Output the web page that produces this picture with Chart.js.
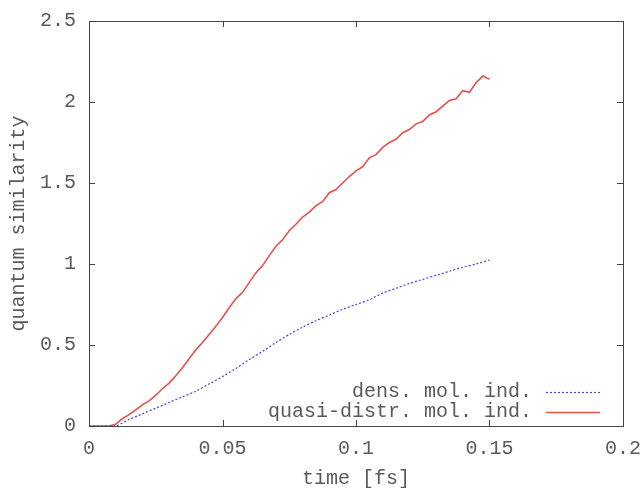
<!DOCTYPE html>
<html>
<head>
<meta charset="utf-8">
<script src="https://cdn.jsdelivr.net/npm/chart.js@4"></script>
<style>
  html, body { margin: 0; padding: 0; background: #fff; }
  #wrap { width: 641px; height: 488px; }
</style>
</head>
<body>
<div id="wrap"><canvas id="simChart" width="641" height="488"></canvas></div>
<script>
// time axis values [fs]
const timeQuasi = [0, 0.0025, 0.005, 0.0075, 0.01, 0.0125, 0.015, 0.0175, 0.02, 0.0225,
    0.025, 0.0275, 0.03, 0.0325, 0.035, 0.0375, 0.04, 0.0425, 0.045, 0.0475,
    0.05, 0.0525, 0.055, 0.0575, 0.06, 0.0625, 0.065, 0.0675, 0.07, 0.0725,
    0.075, 0.0775, 0.08, 0.0825, 0.085, 0.0875, 0.09, 0.0925, 0.095, 0.0975,
    0.1, 0.1025, 0.105, 0.1075, 0.11, 0.1125, 0.115, 0.1175, 0.12, 0.1225,
    0.125, 0.1275, 0.13, 0.1325, 0.135, 0.1375, 0.14, 0.1425, 0.145, 0.1475, 0.15];
const simQuasi = [0, 0, 0, 0, 0.01, 0.045, 0.07, 0.10, 0.13, 0.155,
    0.19, 0.23, 0.265, 0.31, 0.36, 0.415, 0.47, 0.515, 0.565, 0.615,
    0.67, 0.73, 0.785, 0.825, 0.885, 0.945, 0.99, 1.05, 1.11, 1.15,
    1.205, 1.245, 1.29, 1.32, 1.36, 1.385, 1.44, 1.46, 1.50, 1.54,
    1.575, 1.60, 1.655, 1.675, 1.72, 1.75, 1.77, 1.81, 1.83, 1.865,
    1.88, 1.92, 1.94, 1.975, 2.01, 2.02, 2.07, 2.06, 2.12, 2.16, 2.14];

const timeDens = [0, 0.005, 0.01, 0.015, 0.02, 0.025, 0.03, 0.035, 0.04, 0.045,
    0.05, 0.055, 0.06, 0.065, 0.07, 0.075, 0.08, 0.085, 0.09, 0.095,
    0.1, 0.105, 0.11, 0.115, 0.12, 0.125, 0.13, 0.135, 0.14, 0.145, 0.15];
const simDens = [0, 0, 0, 0.04, 0.075, 0.11, 0.145, 0.18, 0.215, 0.26,
    0.305, 0.355, 0.41, 0.46, 0.515, 0.565, 0.61, 0.65, 0.685, 0.72,
    0.75, 0.78, 0.82, 0.85, 0.88, 0.905, 0.93, 0.955, 0.98, 1.0, 1.025];

const xTicks = [0, 0.05, 0.1, 0.15, 0.2];
const yTicks = [0, 0.5, 1, 1.5, 2, 2.5];

const FONT = '"Liberation Mono", "Courier New", monospace';
const TEXT = '#5a5a5a';
const FRAME = '#444';

// gnuplot-like frame with inward mirrored ticks and a right-aligned key
const framePlugin = {
    id: 'frame',
    afterDraw(chart) {
        const { ctx, chartArea: a, scales } = chart;
        ctx.save();
        ctx.strokeStyle = FRAME;
        ctx.lineWidth = 1;
        ctx.strokeRect(a.left + 0.5, a.top + 0.5, a.right - a.left, a.bottom - a.top);
        ctx.beginPath();
        xTicks.forEach(v => {
            const px = Math.round(scales.x.getPixelForValue(v)) + 0.5;
            ctx.moveTo(px, a.bottom); ctx.lineTo(px, a.bottom - 6);
            ctx.moveTo(px, a.top); ctx.lineTo(px, a.top + 6);
        });
        yTicks.forEach(v => {
            const py = Math.round(scales.y.getPixelForValue(v)) + 0.5;
            ctx.moveTo(a.left, py); ctx.lineTo(a.left + 6, py);
            ctx.moveTo(a.right, py); ctx.lineTo(a.right - 6, py);
        });
        ctx.stroke();

        // key
        ctx.font = '20px ' + FONT;
        ctx.textAlign = 'right';
        ctx.textBaseline = 'middle';
        const rows = [392, 412];
        chart.data.datasets.forEach((ds, i) => {
            ctx.fillStyle = TEXT;
            ctx.fillText(ds.label, 532, rows[i]);
            ctx.strokeStyle = ds.borderColor;
            ctx.lineWidth = ds.borderWidth;
            ctx.setLineDash(ds.borderDash || []);
            ctx.beginPath();
            ctx.moveTo(546, rows[i] + 0.5);
            ctx.lineTo(600, rows[i] + 0.5);
            ctx.stroke();
            ctx.setLineDash([]);
        });
        ctx.restore();
    }
};

new Chart(document.getElementById('simChart'), {
    type: 'scatter',
    data: {
        datasets: [{
            label: 'dens. mol. ind.',
            data: timeDens.map((t, i) => ({ x: t, y: simDens[i] })),
            showLine: true,
            borderColor: 'rgb(70, 70, 220)',
            borderWidth: 1.2,
            borderDash: [2, 2],
            pointRadius: 0,
            tension: 0.3
        }, {
            label: 'quasi-distr. mol. ind.',
            data: timeQuasi.map((t, i) => ({ x: t, y: simQuasi[i] })),
            showLine: true,
            borderColor: 'rgb(232, 80, 80)',
            borderWidth: 1.6,
            pointRadius: 0,
            tension: 0
        }]
    },
    options: {
        responsive: false,
        animation: false,
        layout: { padding: { top: 21, right: 18, left: 0, bottom: 0 } },
        plugins: {
            legend: { display: false },
            tooltip: { enabled: false }
        },
        scales: {
            x: {
                type: 'linear',
                min: 0,
                max: 0.2,
                afterBuildTicks: s => { s.ticks = xTicks.map(v => ({ value: v })); },
                afterFit: s => { s.height = 62; s.paddingLeft = 0; s.paddingRight = 0; },
                grid: { display: false, drawTicks: false },
                border: { display: false },
                ticks: {
                    padding: 11,
                    color: TEXT,
                    font: { family: FONT, size: 20 },
                    maxRotation: 0,
                    callback: v => String(v)
                },
                title: {
                    display: true,
                    text: 'time [fs]',
                    color: TEXT,
                    font: { family: FONT, size: 20 },
                    padding: { top: 4, bottom: -3 }
                }
            },
            y: {
                type: 'linear',
                min: 0,
                max: 2.5,
                afterBuildTicks: s => { s.ticks = yTicks.map(v => ({ value: v })); },
                afterFit: s => { s.width = 89; s.paddingTop = 0; s.paddingBottom = 0; },
                grid: { display: false, drawTicks: false },
                border: { display: false },
                ticks: {
                    padding: 13,
                    color: TEXT,
                    font: { family: FONT, size: 20 },
                    callback: v => String(v)
                },
                title: {
                    display: true,
                    text: 'quantum similarity',
                    color: TEXT,
                    font: { family: FONT, size: 20 },
                    padding: { top: 7, bottom: 0 }
                }
            }
        }
    },
    plugins: [framePlugin]
});
</script>
</body>
</html>
